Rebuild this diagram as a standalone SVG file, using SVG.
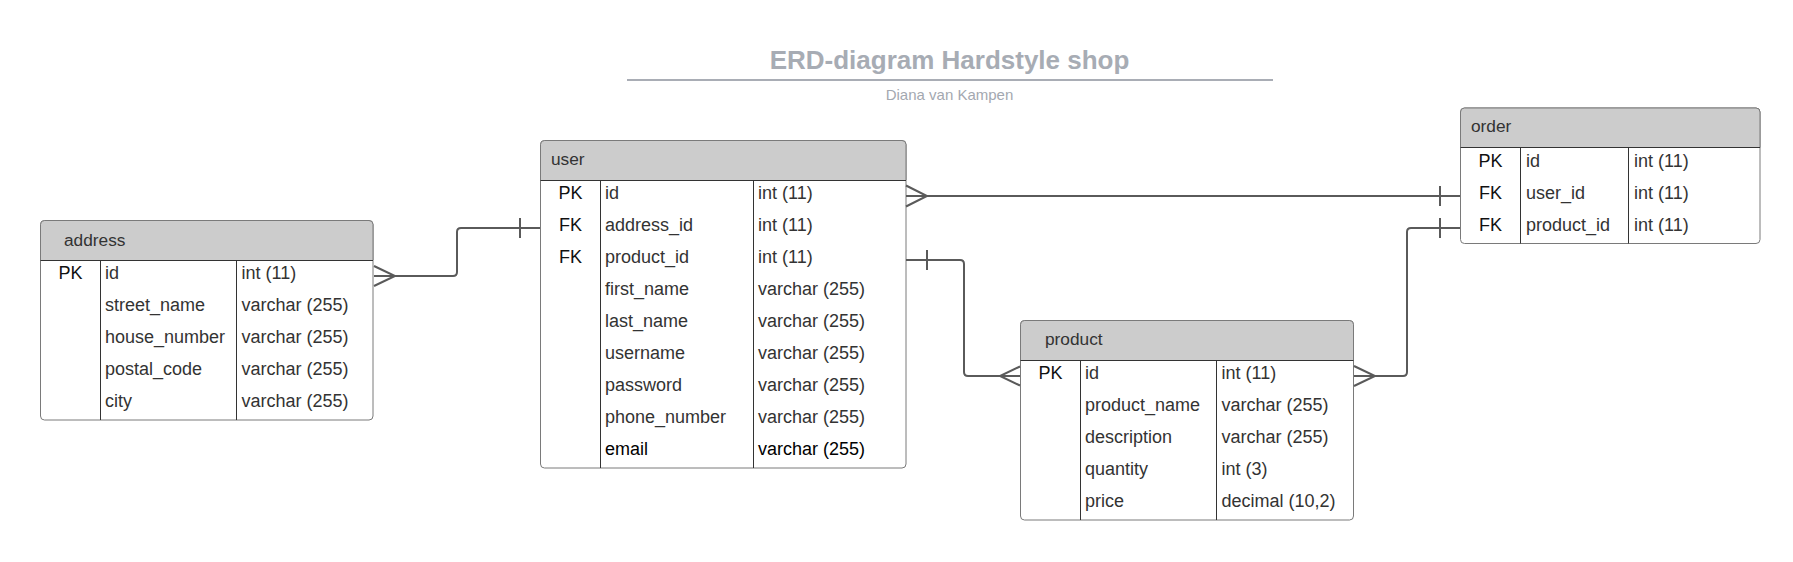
<svg xmlns="http://www.w3.org/2000/svg" width="1793" height="562" viewBox="0 0 1793 562">
<style>
text{font-family:"Liberation Sans",Arial,sans-serif}
.title{font-size:26px;font-weight:bold;fill:#a7acb4;text-anchor:middle}
.sub{font-size:15px;fill:#a3a8b0;text-anchor:middle}
.box{fill:#fff;stroke:#7a7a7a;stroke-width:1}
.hdr{fill:#cccccc}
.sep{stroke:#333;stroke-width:1;fill:none}
.htxt{font-size:17.3px;fill:#333}
.t{font-size:18px;fill:#333}
.k{font-size:18px;fill:#111;text-anchor:middle}
.b{fill:#000}
.conn{stroke:#5a5a5a;stroke-width:2;fill:none}
</style>
<rect width="1793" height="562" fill="#fff"/>
<g id="title">
<text class="title" x="949.5" y="69">ERD-diagram Hardstyle shop</text>
<line x1="627" y1="80" x2="1273" y2="80" stroke="#a9adb5" stroke-width="2"/>
<text class="sub" x="949.5" y="99.5">Diana van Kampen</text>
</g>
<g id="address">
<rect class="box" x="40.5" y="220.5" width="332.5" height="199.5" rx="4"/>
<path class="hdr" d="M44.5 220.5H369Q373 220.5 373 224.5V260H40.5V224.5Q40.5 220.5 44.5 220.5Z"/>
<path class="box" style="fill:none" d="M44.5 220.5H369Q373 220.5 373 224.5V260M40.5 260V224.5Q40.5 220.5 44.5 220.5"/>
<path class="sep" d="M40.5 260.5H373M100.5 260.5V420M236.5 260.5V420"/>
<text class="htxt" x="64" y="245.5">address</text>
<text class="k" x="70.5" y="279">PK</text>
<text class="t" x="105" y="279">id</text><text class="t" x="241.5" y="279">int (11)</text>
<text class="t" x="105" y="311">street_name</text><text class="t" x="241.5" y="311">varchar (255)</text>
<text class="t" x="105" y="343">house_number</text><text class="t" x="241.5" y="343">varchar (255)</text>
<text class="t" x="105" y="375">postal_code</text><text class="t" x="241.5" y="375">varchar (255)</text>
<text class="t" x="105" y="407">city</text><text class="t" x="241.5" y="407">varchar (255)</text>
</g>
<g id="user">
<rect class="box" x="540.5" y="140.5" width="365.5" height="327.5" rx="4"/>
<path class="hdr" d="M544.5 140.5H902Q906 140.5 906 144.5V180H540.5V144.5Q540.5 140.5 544.5 140.5Z"/>
<path class="box" style="fill:none" d="M544.5 140.5H902Q906 140.5 906 144.5V180M540.5 180V144.5Q540.5 140.5 544.5 140.5"/>
<path class="sep" d="M540.5 180.5H906M600.5 180.5V468M753.5 180.5V468"/>
<text class="htxt" x="551" y="164.5">user</text>
<text class="k" x="570.5" y="199">PK</text>
<text class="k" x="570.5" y="231">FK</text>
<text class="k" x="570.5" y="263">FK</text>
<text class="t" x="605" y="199">id</text><text class="t" x="758" y="199">int (11)</text>
<text class="t" x="605" y="231">address_id</text><text class="t" x="758" y="231">int (11)</text>
<text class="t" x="605" y="263">product_id</text><text class="t" x="758" y="263">int (11)</text>
<text class="t" x="605" y="295">first_name</text><text class="t" x="758" y="295">varchar (255)</text>
<text class="t" x="605" y="327">last_name</text><text class="t" x="758" y="327">varchar (255)</text>
<text class="t" x="605" y="359">username</text><text class="t" x="758" y="359">varchar (255)</text>
<text class="t" x="605" y="391">password</text><text class="t" x="758" y="391">varchar (255)</text>
<text class="t" x="605" y="423">phone_number</text><text class="t" x="758" y="423">varchar (255)</text>
<text class="t b" x="605" y="455">email</text><text class="t b" x="758" y="455">varchar (255)</text>
</g>
<g id="order">
<rect class="box" x="1460.5" y="108" width="299.5" height="135.5" rx="4"/>
<path class="hdr" d="M1464.5 108H1756Q1760 108 1760 112V147.5H1460.5V112Q1460.5 108 1464.5 108Z"/>
<path class="box" style="fill:none" d="M1464.5 108H1756Q1760 108 1760 112V147.5M1460.5 147.5V112Q1460.5 108 1464.5 108"/>
<path class="sep" d="M1460.5 147.5H1760M1520.5 147.5V243.5M1628.5 147.5V243.5"/>
<text class="htxt" x="1471" y="131.5">order</text>
<text class="k" x="1490.5" y="166.5">PK</text>
<text class="k" x="1490.5" y="198.5">FK</text>
<text class="k" x="1490.5" y="230.5">FK</text>
<text class="t" x="1526" y="166.5">id</text><text class="t" x="1634" y="166.5">int (11)</text>
<text class="t" x="1526" y="198.5">user_id</text><text class="t" x="1634" y="198.5">int (11)</text>
<text class="t" x="1526" y="230.5">product_id</text><text class="t" x="1634" y="230.5">int (11)</text>
</g>
<g id="product">
<rect class="box" x="1020.5" y="320.5" width="333" height="199.5" rx="4"/>
<path class="hdr" d="M1024.5 320.5H1349.5Q1353.5 320.5 1353.5 324.5V360H1020.5V324.5Q1020.5 320.5 1024.5 320.5Z"/>
<path class="box" style="fill:none" d="M1024.5 320.5H1349.5Q1353.5 320.5 1353.5 324.5V360M1020.5 360V324.5Q1020.5 320.5 1024.5 320.5"/>
<path class="sep" d="M1020.5 360.5H1353.5M1080.5 360.5V520M1216.5 360.5V520"/>
<text class="htxt" x="1045" y="344.5">product</text>
<text class="k" x="1050.5" y="379">PK</text>
<text class="t" x="1085" y="379">id</text><text class="t" x="1221.5" y="379">int (11)</text>
<text class="t" x="1085" y="411">product_name</text><text class="t" x="1221.5" y="411">varchar (255)</text>
<text class="t" x="1085" y="443">description</text><text class="t" x="1221.5" y="443">varchar (255)</text>
<text class="t" x="1085" y="475">quantity</text><text class="t" x="1221.5" y="475">int (3)</text>
<text class="t" x="1085" y="507">price</text><text class="t" x="1221.5" y="507">decimal (10,2)</text>
</g>
<g id="connectors">
<path class="conn" d="M374 276H453Q457 276 457 272V232Q457 228 461 228H540"/>
<path class="conn" d="M374 266L395 276L374 286M520 218V238"/>
<path class="conn" d="M906 196H1460"/>
<path class="conn" d="M906 185.5L927 196L906 206.5M1440 186V206"/>
<path class="conn" d="M906 260H960Q964 260 964 264V372Q964 376 968 376H1020"/>
<path class="conn" d="M927 250V270M1020 366.5L1000 376L1020 385.5"/>
<path class="conn" d="M1354 376H1403Q1407 376 1407 372V232Q1407 228 1411 228H1460"/>
<path class="conn" d="M1354 366L1375 376L1354 386M1440 218V238"/>
</g>
</svg>
